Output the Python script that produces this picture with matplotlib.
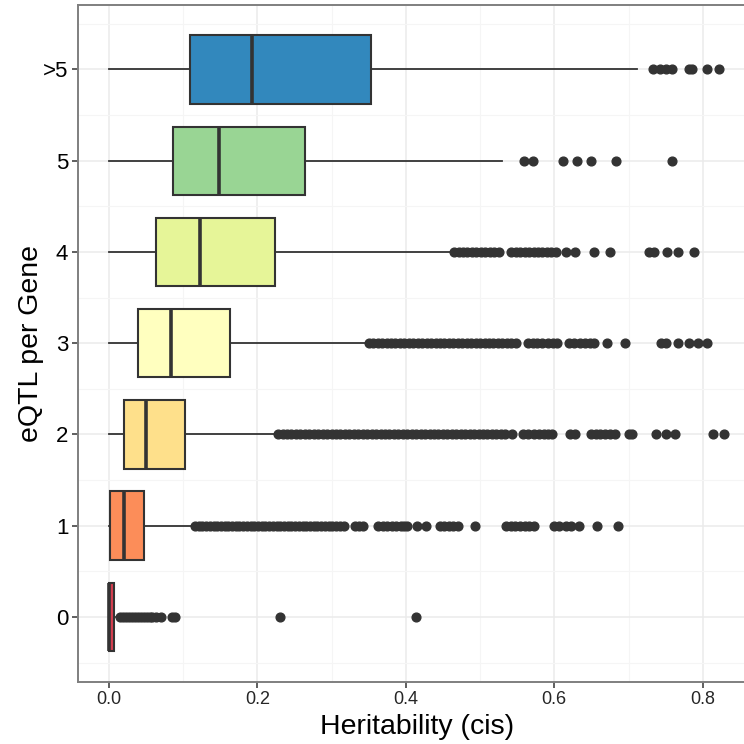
import matplotlib
matplotlib.use("Agg")
import matplotlib.pyplot as plt
from matplotlib.ticker import MultipleLocator

plt.rcParams['font.family'] = ['Liberation Sans', 'DejaVu Sans']

# number of eQTL per gene, bottom to top
categories = ['0', '1', '2', '3', '4', '5', '>5']
colors = ['#D53E4F', '#FC8D59', '#FEE08B', '#FFFFBF', '#E6F598', '#99D594', '#3288BD']

# box statistics of cis heritability per group
q1 = [0.000, 0.002, 0.020, 0.039, 0.064, 0.086, 0.110]
median = [0.000, 0.021, 0.050, 0.084, 0.123, 0.149, 0.193]
q3 = [0.007, 0.047, 0.102, 0.163, 0.224, 0.264, 0.353]
whisker_lo = [0.000, 0.000, 0.000, 0.000, 0.000, 0.000, 0.000]
whisker_hi = [0.008, 0.111, 0.222, 0.348, 0.460, 0.530, 0.712]

# outlying genes per group
out_0 = [0.015, 0.019, 0.023, 0.027, 0.031, 0.035, 0.039, 0.043, 0.047, 0.051,
         0.055, 0.058, 0.063, 0.070, 0.085, 0.089, 0.230, 0.414]
out_1 = [0.116, 0.121, 0.126, 0.131, 0.136, 0.141, 0.146, 0.151, 0.156, 0.161,
         0.166, 0.171, 0.176, 0.181, 0.186, 0.191, 0.196, 0.201, 0.206, 0.211,
         0.216, 0.221, 0.226, 0.231, 0.236, 0.241, 0.246, 0.251, 0.256, 0.261,
         0.266, 0.271, 0.276, 0.281, 0.286, 0.291, 0.296, 0.301, 0.306, 0.311,
         0.317, 0.331, 0.337, 0.343, 0.363, 0.369, 0.375, 0.381, 0.387, 0.393,
         0.398, 0.402, 0.415, 0.427, 0.446, 0.452, 0.458, 0.464, 0.470, 0.493,
         0.535, 0.541, 0.547, 0.554, 0.560, 0.566, 0.573, 0.600, 0.606, 0.616,
         0.622, 0.633, 0.658, 0.686]
out_2 = [0.228, 0.234, 0.240, 0.246, 0.252, 0.258, 0.264, 0.270, 0.276, 0.282,
         0.288, 0.294, 0.300, 0.306, 0.312, 0.318, 0.324, 0.330, 0.336, 0.342,
         0.348, 0.354, 0.360, 0.366, 0.372, 0.378, 0.384, 0.390, 0.396, 0.402,
         0.408, 0.414, 0.420, 0.426, 0.432, 0.438, 0.444, 0.450, 0.456, 0.462,
         0.468, 0.474, 0.480, 0.486, 0.492, 0.498, 0.504, 0.510, 0.516, 0.522,
         0.528, 0.534, 0.543, 0.558, 0.565, 0.572, 0.579, 0.586, 0.592, 0.597,
         0.621, 0.628, 0.650, 0.656, 0.662, 0.668, 0.675, 0.682, 0.701, 0.705,
         0.737, 0.750, 0.763, 0.814, 0.829]
out_3 = [0.350, 0.356, 0.362, 0.368, 0.374, 0.380, 0.386, 0.392, 0.398, 0.404,
         0.410, 0.416, 0.422, 0.428, 0.434, 0.440, 0.446, 0.452, 0.458, 0.464,
         0.470, 0.476, 0.482, 0.488, 0.494, 0.500, 0.506, 0.512, 0.518, 0.524,
         0.530, 0.536, 0.542, 0.548, 0.565, 0.571, 0.577, 0.584, 0.591, 0.598,
         0.604, 0.620, 0.627, 0.634, 0.641, 0.648, 0.654, 0.671, 0.695, 0.744,
         0.750, 0.766, 0.782, 0.794, 0.806]
out_4 = [0.465, 0.471, 0.477, 0.483, 0.489, 0.495, 0.501, 0.507, 0.513, 0.519,
         0.525, 0.542, 0.548, 0.554, 0.560, 0.566, 0.572, 0.578, 0.584, 0.590,
         0.596, 0.602, 0.616, 0.628, 0.653, 0.675, 0.728, 0.734, 0.752, 0.766,
         0.788]
out_5 = [0.559, 0.571, 0.612, 0.631, 0.649, 0.683, 0.758]
out_6 = [0.733, 0.742, 0.751, 0.758, 0.781, 0.785, 0.806, 0.822]
outliers = [out_0, out_1, out_2, out_3, out_4, out_5, out_6]

stats = []
for i, name in enumerate(categories):
    stats.append(dict(label=name, q1=q1[i], med=median[i], q3=q3[i],
                      whislo=whisker_lo[i], whishi=whisker_hi[i],
                      fliers=outliers[i]))

fig = plt.figure(figsize=(7.44, 7.44), dpi=100)
ax = fig.add_axes([78 / 744, 62.3 / 744, 677.9 / 744, 677 / 744])

dark = '#333333'
positions = list(range(len(categories)))
bp = ax.bxp(stats, positions=positions, vert=False, widths=0.75,
            patch_artist=True, showfliers=True, zorder=3,
            boxprops=dict(edgecolor=dark, linewidth=1.5),
            medianprops=dict(color=dark, linewidth=2.6),
            whiskerprops=dict(color=dark, linewidth=1.3),
            capprops=dict(linewidth=0),
            flierprops=dict(marker='o', markerfacecolor=dark,
                            markeredgecolor=dark, markersize=6.3, linestyle='none'))
for patch, c in zip(bp['boxes'], colors):
    patch.set_facecolor(c)

ax.set_xlim(-0.0415, 0.8715)
ax.set_ylim(-0.71, 6.71)

ax.xaxis.set_minor_locator(MultipleLocator(0.1))
ax.set_xticks([0.0, 0.2, 0.4, 0.6, 0.8])
ax.set_xticklabels(['0.0', '0.2', '0.4', '0.6', '0.8'])
ax.set_yticks(positions)
ax.set_yticks([p + 0.5 for p in positions[:-1]] + [-0.5, 6.5], minor=True)
ax.set_yticklabels(categories)

ax.grid(which='major', color='#EBEBEB', linewidth=1.1, zorder=0)
ax.grid(which='minor', color='#F5F5F5', linewidth=0.8, zorder=0)
ax.set_axisbelow(True)

ax.tick_params(axis='x', which='major', labelsize=13, labelcolor='#262626',
               color=dark, length=4, width=1.1, pad=3)
ax.tick_params(axis='y', which='major', labelsize=16, labelcolor='black',
               color=dark, length=4, width=1.1, pad=3)
ax.tick_params(which='minor', length=0)

for side in ['left', 'bottom', 'top', 'right']:
    ax.spines[side].set_color('#7F7F7F')
    ax.spines[side].set_linewidth(1.4)

ax.set_xlabel('Heritability (cis)', fontsize=20.5, labelpad=4)
ax.set_ylabel('eQTL per Gene', fontsize=20.5, labelpad=-1)

fig.savefig('out.png', dpi=100)
